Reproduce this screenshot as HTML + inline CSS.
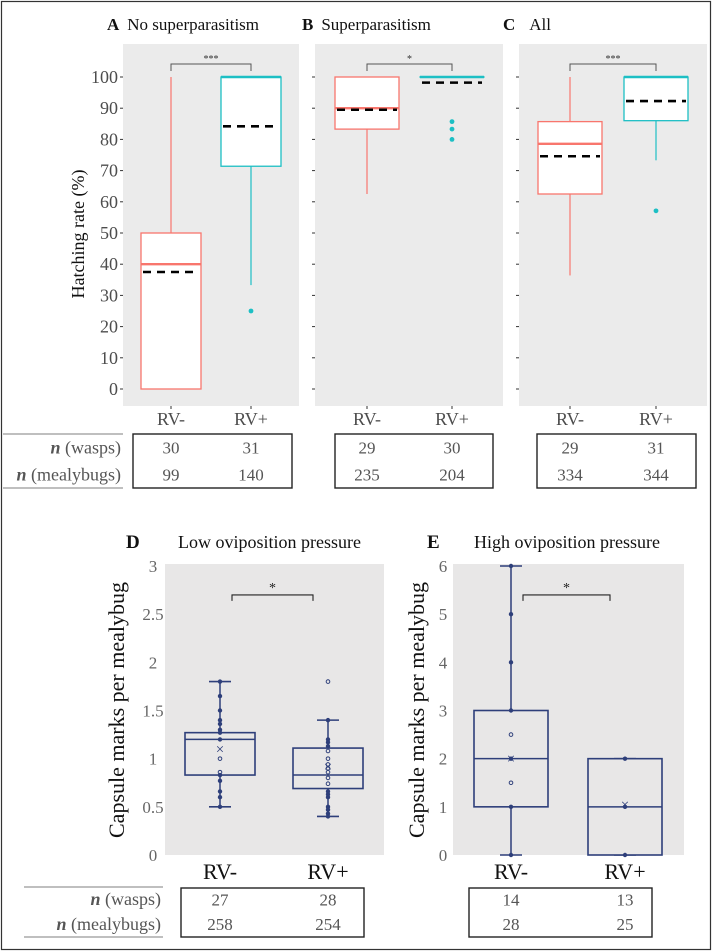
<!DOCTYPE html>
<html><head><meta charset="utf-8"><style>
html,body{margin:0;padding:0;background:#fff}
svg{display:block}
svg text, svg tspan{font-family:"Liberation Serif","DejaVu Serif",serif}
</style></head><body>
<svg id="fig" width="713" height="952" viewBox="0 0 713 952" xmlns="http://www.w3.org/2000/svg" font-family="Liberation Serif, serif">
<rect x="1.5" y="1.5" width="709" height="948" fill="none" stroke="#333" stroke-width="1.2"/>
</svg>
<script>
// ---- top row data (hatching rate %) ----
const topGroups = ["RV-", "RV+"];
const topTicks = [0,10,20,30,40,50,60,70,80,90,100];
const aQ1 = [0, 71.4], aMed = [40, 100], aQ3 = [50, 100], aLo = [0, 33.3], aHi = [100, 100], aMean = [37.5, 84.2];
const aOut = [[], [25]];
const bQ1 = [83.3, 100], bMed = [90, 100], bQ3 = [100, 100], bLo = [62.5, 100], bHi = [100, 100], bMean = [89.5, 98.2];
const bOut = [[], [85.7, 83.3, 80]];
const cQ1 = [62.5, 86], cMed = [78.6, 100], cQ3 = [85.7, 100], cLo = [36.4, 73.3], cHi = [100, 100], cMean = [74.6, 92.3];
const cOut = [[], [57.1]];
const aWasps = [30, 31], aBugs = [99, 140];
const bWasps = [29, 30], bBugs = [235, 204];
const cWasps = [29, 31], cBugs = [334, 344];
// ---- bottom row data (capsule marks) ----
const dTicks = ["0","0.5","1","1.5","2","2.5","3"];
const dTickVals = [0,0.5,1,1.5,2,2.5,3];
const dQ1 = [0.83, 0.69], dMed = [1.2, 0.83], dQ3 = [1.27, 1.11], dLo = [0.5, 0.4], dHi = [1.8, 1.4], dMean = [1.1, 0.92];
const dPtsFilled = [[1.8,1.65,1.5,1.4,1.36,1.3,1.27,1.2,0.83,0.77,0.66,0.6,0.5],[1.4,1.2,1.17,1.13,0.66,0.63,0.6,0.5,0.47,0.43,0.4]];
const dPtsOpen = [[1.0,0.86],[1.8,1.08,1.0,0.94,0.9,0.86,0.8,0.74]];
const eTicks = ["0","1","2","3","4","5","6"];
const eTickVals = [0,1,2,3,4,5,6];
const eQ1 = [1, 0], eMed = [2, 1], eQ3 = [3, 2], eLo = [0, 0], eHi = [6, 2], eMean = [2, 1.05];
const ePtsFilled = [[6,5,4,3,2,1,0],[2,1,0]];
const ePtsOpen = [[2.5,1.5],[]];
const dWasps = [27, 28], dBugs = [258, 254];
const eWasps = [14, 13], eBugs = [28, 25];

const NS = "http://www.w3.org/2000/svg";
const svg = document.getElementById("fig");
const SERIF = "Liberation Serif, serif";
function mk(tag, attrs, parent, text){
  const e = document.createElementNS(NS, tag);
  if (tag === "text" && !attrs["font-family"]) e.setAttribute("font-family", SERIF);
  for (const k in attrs) e.setAttribute(k, attrs[k]);
  if (text !== undefined) e.textContent = text;
  (parent || svg).appendChild(e);
  return e;
}
const RED = "#F8766D", TEAL = "#1DBFC4", NAVY = "#2E3F7A";

function ggPanel(o){
  const g = mk("g", {});
  
  
  const y = v => o.y0 + (o.y100 - o.y0) * v / 100;
  const bg = mk("rect", {x:o.x0, y:44, width:o.x1-o.x0, height:362, fill:"#EBEBEB"}, g);
  
  
  topTicks.forEach(t => {
    const tk = mk("line", {x1:o.x0-3, x2:o.x0, y1:y(t), y2:y(t), stroke:"#333", "stroke-width":1}, g);
    
    
    if (o.labels){
      const lb = mk("text", {x:o.x0-5, y:y(t)+6, "text-anchor":"end", "font-size":18, fill:"#4D4D4D"}, g, t);
      
      
    }
  });
  const cols = [RED, TEAL];
  topGroups.forEach((gName, i) => {
    const cx = o.cx[i], hw = o.hw;
    const c = cols[i];
    const w1 = mk("line", {x1:cx, x2:cx, y1:y(o.hi[i]), y2:y(o.q3[i]), stroke:c, "stroke-width":1.2}, g);
    
    
    const w2 = mk("line", {x1:cx, x2:cx, y1:y(o.q1[i]), y2:y(o.lo[i]), stroke:c, "stroke-width":1.2}, g);
    
    
    const bx = mk("rect", {x:cx-hw, y:y(o.q3[i]), width:2*hw, height:Math.max(0.01, y(o.q1[i])-y(o.q3[i])), fill:"#fff", stroke:c, "stroke-width":1.3}, g);
    
    
    const md = mk("line", {x1:cx-hw, x2:cx+hw, y1:y(o.med[i]), y2:y(o.med[i]), stroke:c, "stroke-width":2.4}, g);
    
    
    const mn = mk("line", {x1:cx-hw+2, x2:cx+hw-2, y1:y(o.mean[i]), y2:y(o.mean[i]), stroke:"#000", "stroke-width":2.6, "stroke-dasharray":"8,6"}, g);
    
    
    o.out[i].forEach(v => {
      const p = mk("circle", {cx:cx, cy:y(v), r:2.4, fill:c}, g);
      
      
    });
    const xt = mk("line", {x1:cx, x2:cx, y1:406, y2:409, stroke:"#333"}, g);
    
    
    const xl = mk("text", {x:cx, y:425, "text-anchor":"middle", "font-size":18, fill:"#4D4D4D"}, g, gName);
    
    
  });
  const br = mk("path", {d:`M${o.cx[0]} 71 V64 H${o.cx[1]} V71`, fill:"none", stroke:"#555", "stroke-width":1}, g);
  
  
  const st = mk("text", {x:(o.cx[0]+o.cx[1])/2, y:62, "text-anchor":"middle", "font-size":10, fill:"#333"}, g, o.stars);
  
  
  const tl = mk("text", {x:o.tx, y:30, "font-size":17, fill:"#111"}, g);
  
  
  mk("tspan", {"font-weight":"bold"}, tl, o.letter);
  mk("tspan", {dx:o.gap}, tl, o.title);
  nTable(g, o.tb, 434, 488, o.cx, o.wasps, o.bugs, 14);
}

function nTable(g, tb, yt, yb, cx, wasps, bugs, fs){
  const r = mk("rect", {x:tb[0], y:yt, width:tb[1]-tb[0], height:yb-yt, fill:"none", stroke:"#222", "stroke-width":1.4}, g);
  
  
  const h = yb - yt;
  [0,1].forEach(i => {
    const a = mk("text", {x:cx[i], y:yt+h*0.36, "text-anchor":"middle", "font-size":fs+3, fill:"#555"}, g, wasps[i]);
    
    
    const b = mk("text", {x:cx[i], y:yt+h*0.86, "text-anchor":"middle", "font-size":fs+3, fill:"#555"}, g, bugs[i]);
    
    
  });
}

function rowLabels(xr, x0, yt, yb, fs){
  const g = mk("g", {});
  
  
  mk("line", {x1:x0, x2:xr, y1:yt, y2:yt, stroke:"#aaa", "stroke-width":1.5}, g);
  mk("line", {x1:x0, x2:xr, y1:yb, y2:yb, stroke:"#aaa", "stroke-width":1.5}, g);
  const h = yb - yt;
  const t1 = mk("text", {x:xr-2, y:yt+h*0.36, "text-anchor":"end", "font-size":fs, fill:"#555"}, g);
  mk("tspan", {"font-weight":"bold","font-style":"italic"}, t1, "n");
  mk("tspan", {}, t1, " (wasps)");
  const t2 = mk("text", {x:xr-2, y:yt+h*0.86, "text-anchor":"end", "font-size":fs, fill:"#555"}, g);
  mk("tspan", {"font-weight":"bold","font-style":"italic"}, t2, "n");
  mk("tspan", {}, t2, " (mealybugs)");
}

ggPanel({name:"panel-a", x0:123, x1:299, y0:389, y100:77, cx:[171,251], hw:30, labels:true,
  q1:aQ1, med:aMed, q3:aQ3, lo:aLo, hi:aHi, mean:aMean, out:aOut, stars:"***",
  letter:"A", title:"No superparasitism", tx:107, gap:8, tb:[133,292], wasps:aWasps, bugs:aBugs});
ggPanel({name:"panel-b", x0:315, x1:503, y0:389, y100:77, cx:[367,452], hw:32, labels:false,
  q1:bQ1, med:bMed, q3:bQ3, lo:bLo, hi:bHi, mean:bMean, out:bOut, stars:"*",
  letter:"B", title:"Superparasitism", tx:302, gap:8, tb:[335,493], wasps:bWasps, bugs:bBugs});
ggPanel({name:"panel-c", x0:519, x1:707, y0:389, y100:77, cx:[570,656], hw:32, labels:false,
  q1:cQ1, med:cMed, q3:cQ3, lo:cLo, hi:cHi, mean:cMean, out:cOut, stars:"***",
  letter:"C", title:"All", tx:503, gap:14, tb:[537,696], wasps:cWasps, bugs:cBugs});
rowLabels(123, 3, 434, 488, 18);
const yt1 = mk("text", {x:0, y:0, transform:"translate(84,234) rotate(-90)", "text-anchor":"middle", "font-size":18, fill:"#111"}, svg, "Hatching rate (%)");



function xlPanel(o){
  const g = mk("g", {});
  
  
  const y = v => o.y0 + (o.yTop - o.y0) * v / o.max;
  const bg = mk("rect", {x:o.x0, y:564, width:o.x1-o.x0, height:291, fill:"#E8E7E7"}, g);
  
  
  o.tickVals.forEach((t, k) => {
    const lb = mk("text", {x:o.lx, y:y(t)+6, "text-anchor":"middle", "font-size":17, fill:"#666"}, g, o.ticks[k]);
    
    
  });
  [0,1].forEach(i => {
    const cx = o.cx[i], hw = o.hw;
    const w = mk("line", {x1:cx, x2:cx, y1:y(o.hi[i]), y2:y(o.lo[i]), stroke:NAVY, "stroke-width":1.5}, g);
    
    
    [o.hi[i], o.lo[i]].forEach(v => {
      const c = mk("line", {x1:cx-11, x2:cx+11, y1:y(v), y2:y(v), stroke:NAVY, "stroke-width":1.6}, g);
      
      
    });
    const bx = mk("rect", {x:cx-hw, y:y(o.q3[i]), width:2*hw, height:y(o.q1[i])-y(o.q3[i]), fill:"#E8E7E7", stroke:NAVY, "stroke-width":1.6}, g);
    
    
    const md = mk("line", {x1:cx-hw, x2:cx+hw, y1:y(o.med[i]), y2:y(o.med[i]), stroke:NAVY, "stroke-width":1.5}, g);
    
    
    o.filled[i].forEach(v => {
      const p = mk("circle", {cx:cx, cy:y(v), r:2.2, fill:NAVY}, g);
      
      
    });
    o.open[i].forEach(v => {
      const p = mk("circle", {cx:cx, cy:y(v), r:1.8, fill:"none", stroke:NAVY, "stroke-width":1}, g);
      
      
    });
    const m = mk("text", {x:cx, y:y(o.mean[i])+5, "text-anchor":"middle", "font-family":"Liberation Sans, sans-serif", "font-size":15, fill:NAVY}, g, "×");
    
    
    const xl = mk("text", {x:cx, y:879, "text-anchor":"middle", "font-size":22, fill:"#111"}, g, topGroups[i]);
    
    
  });
  const by = y(o.br);
  const bx0 = o.cx[0] + 12, bx1 = o.cx[1] - 15;
  const br = mk("path", {d:`M${bx0} ${by+6} V${by} H${bx1} V${by+6}`, fill:"none", stroke:"#222", "stroke-width":1.1}, g);
  
  
  const st = mk("text", {x:(bx0+bx1)/2, y:by-3, "text-anchor":"middle", "font-size":14, fill:"#222"}, g, "*");
  
  
  const yt = mk("text", {x:0, y:0, transform:`translate(${o.ytx},710) rotate(-90)`, "text-anchor":"middle", "font-size":22, fill:"#111"}, g, "Capsule marks per mealybug");
  
  
  const lt = mk("text", {x:o.letX, y:548, "font-size":19, "font-weight":"bold", fill:"#111"}, g, o.letter);
  
  
  const tt = mk("text", {x:o.titX, y:548, "font-size":18, fill:"#111"}, g, o.title);
  
  
  nTable(g, o.tb, 888, 937, o.cx, o.wasps, o.bugs, 14);
}
xlPanel({name:"panel-d", x0:165, x1:384, y0:855, yTop:566, max:3, cx:[220,328], hw:35, lx:153,
  ticks:dTicks, tickVals:dTickVals, q1:dQ1, med:dMed, q3:dQ3, lo:dLo, hi:dHi, mean:dMean,
  filled:dPtsFilled, open:dPtsOpen, br:2.7, ytx:124, letter:"D", letX:126, titX:178,
  title:"Low oviposition pressure", tb:[181,364], wasps:dWasps, bugs:dBugs});
xlPanel({name:"panel-e", x0:453, x1:684, y0:855, yTop:566, max:6, cx:[511,625], hw:37, lx:443,
  ticks:eTicks, tickVals:eTickVals, q1:eQ1, med:eMed, q3:eQ3, lo:eLo, hi:eHi, mean:eMean,
  filled:ePtsFilled, open:ePtsOpen, br:5.4, ytx:424, letter:"E", letX:427, titX:474,
  title:"High oviposition pressure", tb:[469,652], wasps:eWasps, bugs:eBugs});
rowLabels(163, 24, 887, 937, 18);
</script>
</body></html>
